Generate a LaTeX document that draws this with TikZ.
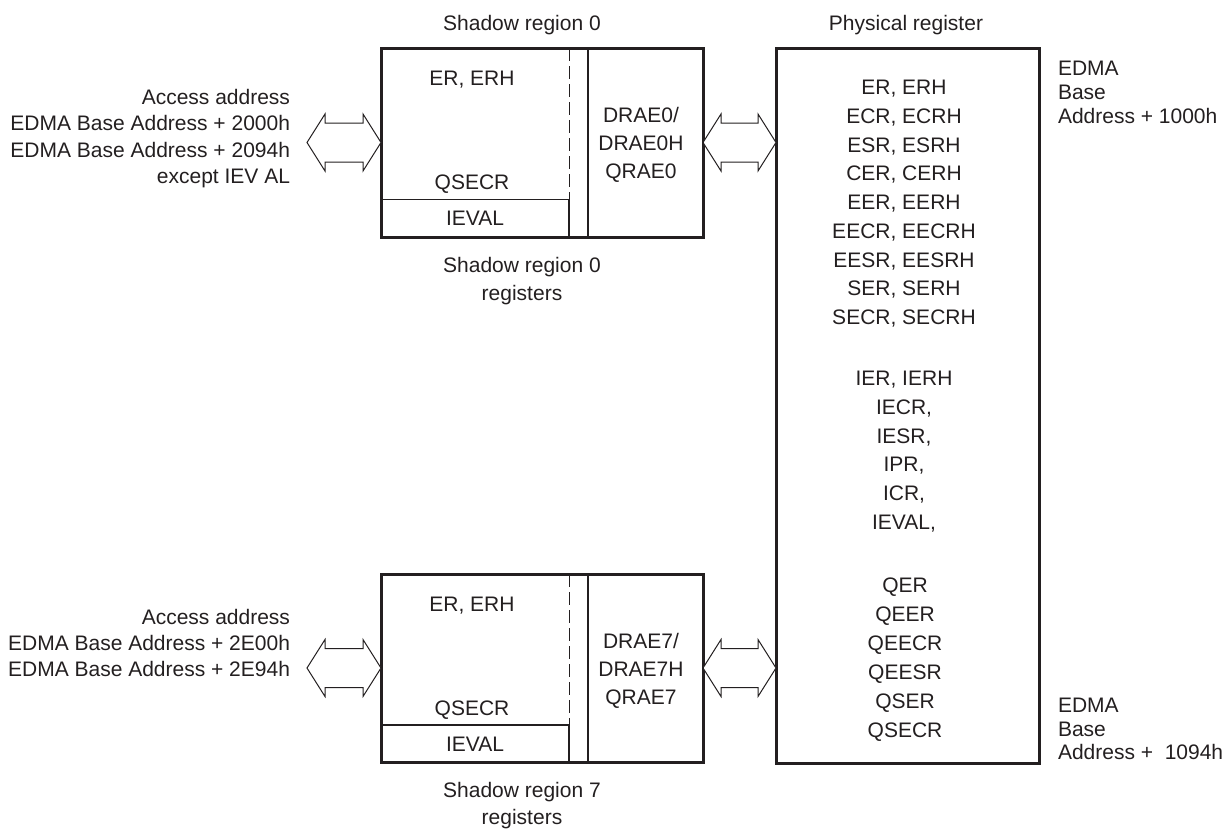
\documentclass[tikz,border=0pt]{standalone}
\usepackage{fontspec}
\setmainfont{Liberation Sans}
\usetikzlibrary{calc}
\definecolor{ink}{HTML}{231F20}
\newcommand\regfont[1]{\fontsize{21}{#1}\selectfont}
\newcommand\topstr{\rule{0pt}{15.5pt}}
\newcommand\botstr{\rule[-4.5pt]{0pt}{4.5pt}}
% double-headed block arrow between two tips (image coordinates, y downward)
\newcommand\blockarrow[2]{%
  \draw[barrow] (#1) -- ++(18,-28.5) -- ++(0,9) -- ($(#2)+(-18,-19.5)$) -- ++(0,-9)
    -- (#2) -- ++(-18,28.5) -- ++(0,-9) -- ($(#1)+(18,19.5)$) -- ++(0,9) -- cycle;}
\begin{document}
\begin{tikzpicture}[x=1pt, y=-1pt,
  every node/.style={text=ink, inner sep=0pt, outer sep=0pt},
  lbl/.style={font=\regfont{26}},
  regbox/.style={draw=ink, line width=3pt, rectangle},
  inner/.style={draw=ink, line width=1.6pt},
  dashline/.style={draw=ink, line width=1pt, dash pattern=on 13pt off 5pt},
  barrow/.style={draw=ink, line width=1pt, line join=miter, fill=white}]
\useasboundingbox (0,0) rectangle (1232,828);

% ---------- shadow region 0 ----------
\draw[dashline] (569,48) -- (569,199.5);
\draw[inner] (381,199.5) -- (569,199.5) -- (569,237);
\draw[inner] (588,48) -- (588,237);
\node[regbox, minimum width=322pt, minimum height=189pt] (s0) at (542,142.5) {};

\node[lbl] (s0er) at (472,80) {\topstr ER, ERH\botstr};
\node[lbl] (s0qsecr) at (472,184) {\topstr QSECR\botstr};
\node[lbl] (s0ieval) at (475,220) {\topstr IEVAL\botstr};
\node[lbl, align=center, font=\regfont{28}] (s0drae) at (641,145)
  {\topstr DRAE0/\\DRAE0H\\QRAE0\botstr};

% ---------- shadow region 7 ----------
\draw[dashline] (569,574) -- (569,725);
\draw[inner] (381,725) -- (569,725) -- (569,762);
\draw[inner] (588,574) -- (588,762);
\node[regbox, minimum width=322pt, minimum height=188pt] (s7) at (542,668) {};

\node[lbl] (s7er) at (472,606) {\topstr ER, ERH\botstr};
\node[lbl] (s7qsecr) at (472,710) {\topstr QSECR\botstr};
\node[lbl] (s7ieval) at (475,746) {\topstr IEVAL\botstr};
\node[lbl, align=center, font=\regfont{28}] (s7drae) at (641,671)
  {\topstr DRAE7/\\DRAE7H\\QRAE7\botstr};

% ---------- physical register ----------
\node[regbox, minimum width=263pt, minimum height=715pt] (phys) at (907.5,405.5) {};
\node[lbl, align=center, font=\regfont{28.75}] (plist1) at (904,204)
  {\topstr ER, ERH\\ECR, ECRH\\ESR, ESRH\\CER, CERH\\EER, EERH\\EECR, EECRH\\EESR, EESRH\\SER, SERH\\SECR, SECRH\botstr};
\node[lbl, align=center, font=\regfont{28.8}] (plist2) at (904,452)
  {\topstr IER, IERH\\IECR,\\IESR,\\IPR,\\ICR,\\IEVAL,\botstr};
\node[lbl, align=center, font=\regfont{29}] (plist3) at (905,659.5)
  {\topstr QER\\QEER\\QEECR\\QEESR\\QSER\\QSECR\botstr};

% ---------- titles and captions ----------
\node[lbl] (t0) at (522,25) {\topstr Shadow region 0\botstr};
\node[lbl] (tp) at (906,25) {\topstr Physical register\botstr};
\node[lbl, align=center, font=\regfont{28}] (c0) at (522,281)
  {\topstr Shadow region 0\\registers\botstr};
\node[lbl, align=center, font=\regfont{27}] (c7) at (522,805)
  {\topstr Shadow region 7\\registers\botstr};

% ---------- address labels ----------
\node[lbl, align=right, anchor=east, font=\regfont{26.33}] (addr0) at (290,138.5)
  {\topstr Access address\\EDMA Base Address + 2000h\\EDMA Base Address + 2094h\\except IEV AL\botstr};
\node[lbl, align=right, anchor=east, font=\regfont{26}] (addr7) at (290,645)
  {\topstr Access address\\EDMA Base Address + 2E00h\\EDMA Base Address + 2E94h\botstr};
\node[lbl, align=left, anchor=west, font=\regfont{24}] (base0) at (1058,94)
  {\topstr EDMA\\Base\\Address + 1000h\botstr};
\node[lbl, align=left, anchor=west, font=\regfont{23.5}] (base1) at (1058,730.5)
  {\topstr EDMA\\Base\\Address +\ \ 1094h\botstr};

% ---------- block arrows ----------
\coordinate (a0) at (307,142.5);
\coordinate (a7) at (307,668);
\blockarrow{a0}{s0.west}
\blockarrow{s0.east}{phys.west |- s0.east}
\blockarrow{a7}{s7.west}
\blockarrow{s7.east}{phys.west |- s7.east}
\end{tikzpicture}
\end{document}
